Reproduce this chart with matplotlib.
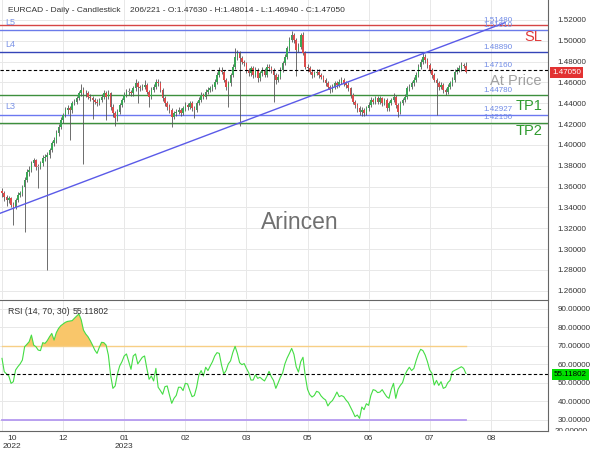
import matplotlib
matplotlib.use("Agg")
import matplotlib.pyplot as plt
import matplotlib.transforms as mtransforms
import numpy as np

plt.rcParams["font.family"] = ["Liberation Sans", "DejaVu Sans"]

# daily EURCAD candles, prices in 1/10000
FIRST_OPEN = 13560
CLOSE_PIPS = [
    13536, 13504, 13472, 13488, 13424, 13408, 13472, 13520, 13536, 13600,
    13664, 13744, 13760, 13824, 13856, 13792, 13792, 13824, 13872, 13888,
    13904, 13952, 14016, 14048, 14112, 14176, 14240, 14288, 14336, 14352,
    14336, 14400, 14416, 14448, 14496, 14528, 14496, 14496, 14464, 14448,
    14432, 14416, 14400, 14432, 14464, 14496, 14464, 14496, 14368, 14304,
    14256, 14320, 14384, 14432, 14480, 14512, 14512, 14496, 14544, 14592,
    14560, 14544, 14560, 14576, 14512, 14464, 14528, 14560, 14608, 14592,
    14528, 14448, 14400, 14368, 14336, 14272, 14304, 14320, 14336, 14304,
    14352, 14384, 14368, 14400, 14352, 14336, 14400, 14432, 14480, 14464,
    14512, 14528, 14544, 14560, 14608, 14672, 14720, 14704, 14624, 14560,
    14592, 14672, 14752, 14848, 14880, 14832, 14800, 14784, 14720, 14688,
    14736, 14672, 14720, 14640, 14688, 14720, 14672, 14752, 14736, 14720,
    14672, 14624, 14656, 14720, 14784, 14848, 14928, 15008, 15056, 15008,
    14912, 14944, 15056, 14880, 14752, 14736, 14704, 14672, 14688, 14704,
    14672, 14656, 14624, 14592, 14560, 14528, 14560, 14592, 14576, 14608,
    14624, 14592, 14576, 14544, 14480, 14416, 14384, 14352, 14320, 14336,
    14304, 14352, 14384, 14432, 14416, 14448, 14416, 14448, 14400, 14432,
    14352, 14400, 14432, 14464, 14384, 14320, 14400, 14432, 14464, 14544,
    14560, 14592, 14624, 14672, 14752, 14800, 14848, 14816, 14768, 14720,
    14672, 14624, 14592, 14560, 14576, 14528, 14512, 14560, 14592, 14624,
    14704, 14720, 14736, 14768, 14763, 14705,
]
HIGH_PIPS = [
    13590, 13555, 13520, 13510, 13500, 13450, 13490, 13545, 13560, 13620,
    13690, 13770, 13800, 13850, 13880, 13870, 13820, 13845, 13900, 13910,
    13930, 13975, 14040, 14075, 14140, 14200, 14265, 14310, 14360, 14380,
    14375, 14425, 14445, 14470, 14520, 14586, 14560, 14530, 14515, 14490,
    14470, 14455, 14440, 14455, 14490, 14525, 14515, 14530, 14510, 14390,
    14330, 14345, 14405, 14455, 14505, 14540, 14545, 14530, 14570, 14630,
    14610, 14580, 14590, 14624, 14595, 14530, 14555, 14590, 14635, 14630,
    14610, 14545, 14470, 14420, 14390, 14355, 14330, 14345, 14360, 14355,
    14375, 14410, 14405, 14425, 14420, 14375, 14420, 14460, 14505, 14500,
    14535, 14555, 14570, 14590, 14635, 14700, 14745, 14750, 14720, 14640,
    14615, 14695, 14775, 14928, 14910, 14900, 14850, 14820, 14800, 14740,
    14760, 14755, 14745, 14740, 14710, 14745, 14740, 14780, 14775, 14760,
    14740, 14690, 14680, 14745, 14810, 14875, 14955, 15035, 15098, 15075,
    15025, 14975, 15075, 15088, 14900, 14780, 14760, 14725, 14715, 14730,
    14725, 14695, 14675, 14645, 14610, 14580, 14585, 14615, 14610, 14630,
    14650, 14645, 14615, 14600, 14560, 14500, 14435, 14405, 14375, 14360,
    14355, 14375, 14410, 14460, 14455, 14475, 14470, 14470, 14465, 14455,
    14450, 14425, 14455, 14495, 14480, 14400, 14425, 14455, 14490, 14565,
    14590, 14615, 14650, 14700, 14775, 14830, 14880, 14870, 14835, 14790,
    14740, 14690, 14645, 14610, 14600, 14595, 14550, 14585, 14615, 14650,
    14730, 14745, 14765, 14795, 14790, 14801,
]
LOW_PIPS = [
    13500, 13460, 13410, 13440, 13400, 13232, 13390, 13455, 13500, 13510,
    13168, 13640, 13700, 13740, 13800, 13760, 13584, 13770, 13800, 13850,
    12800, 13880, 13930, 13990, 14020, 14090, 14150, 14215, 14270, 14300,
    14048, 14310, 14380, 14395, 14430, 14470, 13818, 14460, 14440, 14420,
    14246, 14390, 14370, 14380, 14410, 14440, 14240, 14445, 14340, 14270,
    14182, 14230, 14300, 14360, 14410, 14460, 14480, 14470, 14475, 14520,
    14400, 14520, 14525, 14540, 14490, 14368, 14445, 14505, 14540, 14565,
    14505, 14420, 14375, 14340, 14310, 14176, 14250, 14280, 14300, 14280,
    14285, 14330, 14340, 14350, 14330, 14256, 14315, 14380, 14410, 14440,
    14445, 14490, 14510, 14520, 14540, 14590, 14650, 14680, 14600, 14530,
    14362, 14570, 14650, 14730, 14820, 14180, 14775, 14760, 14690, 14660,
    14665, 14645, 14650, 14600, 14615, 14665, 14650, 14650, 14710, 14695,
    14416, 14590, 14600, 14635, 14700, 14765, 14825, 14905, 14985, 14980,
    14662, 14890, 14920, 14860, 14730, 14700, 14680, 14640, 14650, 14670,
    14645, 14630, 14600, 14565, 14535, 14500, 14505, 14540, 14550, 14555,
    14590, 14570, 14550, 14520, 14455, 14390, 14355, 14320, 14290, 14278,
    14280, 14285, 14330, 14365, 14390, 14395, 14390, 14395, 14375, 14380,
    14325, 14330, 14380, 14410, 14355, 14266, 14300, 14380, 14410, 14440,
    14520, 14540, 14570, 14600, 14650, 14730, 14780, 14790, 14740, 14695,
    14645, 14600, 14288, 14530, 14540, 14500, 14480, 14490, 14540, 14570,
    14600, 14680, 14700, 14715, 14735, 14694,
]
RSI = [
    63.3, 56.1, 54.9, 53.8, 49.8, 50.7, 57.0, 58.8, 60.3, 62.4,
    69.6, 70.9, 72.3, 75.9, 70.5, 69.6, 67.8, 67.5, 71.8, 71.4,
    72.9, 75.0, 76.8, 73.2, 77.2, 79.5, 81.0, 81.9, 82.8, 83.3,
    83.5, 83.7, 85.0, 86.2, 87.3, 84.1, 78.6, 76.5, 75.0, 72.9,
    70.5, 67.8, 66.0, 69.3, 72.0, 71.8, 70.5, 65.1, 54.3, 47.1,
    48.4, 54.9, 59.2, 61.5, 64.6, 65.7, 61.5, 57.4, 64.6, 65.7,
    60.3, 62.1, 63.9, 64.6, 57.9, 52.0, 53.8, 51.1, 57.9, 47.7,
    45.9, 43.9, 48.0, 48.4, 43.5, 39.0, 41.7, 43.3, 47.7, 47.7,
    45.9, 49.8, 49.5, 45.9, 42.6, 43.2, 47.7, 54.3, 56.7, 53.8,
    58.5, 56.7, 59.2, 61.5, 64.6, 66.4, 66.0, 59.7, 54.9, 56.7,
    60.3, 62.0, 66.5, 69.8, 66.0, 61.0, 59.9, 60.5, 57.9, 55.6,
    51.6, 51.6, 54.5, 52.5, 53.1, 52.0, 51.1, 53.4, 56.3, 53.4,
    51.3, 47.1, 50.0, 53.1, 55.4, 60.3, 63.5, 66.0, 68.7, 65.5,
    58.8, 55.9, 61.5, 63.9, 53.8, 46.6, 43.7, 42.4, 43.3, 45.5,
    45.0, 43.0, 41.7, 40.8, 37.6, 39.4, 40.5, 42.6, 45.1, 42.6,
    43.2, 42.6, 40.8, 39.4, 37.0, 34.5, 31.8, 32.7, 30.9, 37.0,
    35.6, 38.8, 37.9, 43.3, 46.4, 46.0, 44.8, 45.1, 46.4, 44.4,
    42.6, 41.7, 46.6, 49.8, 41.7, 46.6, 48.7, 50.2, 54.3, 56.7,
    58.5, 56.7, 57.9, 62.1, 65.7, 68.2, 67.5, 65.1, 61.5, 57.0,
    55.2, 48.9, 51.4, 48.7, 50.7, 47.1, 47.7, 50.2, 51.4, 56.1,
    56.8, 57.4, 58.1, 58.8, 57.9, 55.11802,
]

LEVELS = [1.51480, 1.51010, 1.48890, 1.47160, 1.44780, 1.42927, 1.42150]
LEVEL_TEXT = ["1.51480", "1.51010", "1.48890", "1.47160", "1.44780", "1.42927", "1.42150"]
LEVEL_NAMES = {"L5": 1.51010, "L4": 1.48890, "L3": 1.42927}
TAGS = ["SL", "At Price", "TP1", "TP2"]
TAG_PRICES = [1.5037, 1.4610, 1.4374, 1.4134]
TREND_X = [-0.9, 222.3]
TREND_Y = [1.3344, 1.5175]
LAST_PRICE = "1.47050"
RSI_LAST = 55.11802
TICK_BARS = [0, 27, 54, 81, 108, 135, 162, 189, 216]
TICK_LABELS = ["10\n2022", "12", "01\n2023", "02", "03", "05", "06", "07", "08"]
TITLE = ("EURCAD - Daily - Candlestick    206/221 - O:1.47630 - H:1.48014 - "
         "L:1.46940 - C:1.47050")

# styles
LEVEL_COLORS = ["#d64545", "#6b7bea", "#3444b8", "black", "#3d8f3d", "#6b78f0", "#3d8f3d"]
TAG_COLORS = ["#e03a3a", "#a0a0a0", "#2e9a2e", "#2e9a2e"]
GRID = "#e8e8e8"
AXIS = "#666666"

closes = np.array(CLOSE_PIPS) / 1e4
highs = np.array(HIGH_PIPS) / 1e4
lows = np.array(LOW_PIPS) / 1e4
opens = np.concatenate([[FIRST_OPEN / 1e4], closes[:-1]])
x = np.arange(len(closes))
rsi = np.array(RSI)

fig = plt.figure(figsize=(6, 4.5), dpi=100)
ax = fig.add_axes([0, 151 / 450, 548 / 600, 299 / 450])
ax_rsi = fig.add_axes([0, 19 / 450, 548 / 600, 131 / 450], sharex=ax)

xlim = (-0.884, 241.27)

# ---- price panel ----
ax.set_xlim(*xlim)
ax.set_ylim(1.25216, 1.5392)
ax.set_yticks(np.arange(1.26, 1.5201, 0.02))
ax.yaxis.tick_right()
ax.yaxis.set_major_formatter(matplotlib.ticker.FormatStrFormatter("%.5f"))
ax.tick_params(axis="y", length=0, pad=7, labelsize=5.8, labelcolor="#333333")
ax.tick_params(axis="x", length=0, labelbottom=False)
ax.set_xticks(TICK_BARS)
ax.grid(True, color=GRID, lw=0.7)
ax.set_axisbelow(True)
for side in ["top", "left", "bottom"]:
    ax.spines[side].set_visible(False)
ax.spines["right"].set_color(AXIS)

body_colors = np.where(closes > opens, "#3aa655",
                       np.where(closes < opens, "#dc4b4b", "#a8a8a8"))
ax.vlines(x, lows, highs, color="#555555", lw=0.6, zorder=3)
ax.bar(x, np.maximum(np.abs(closes - opens), 0.0003), bottom=np.minimum(opens, closes),
       width=0.7, color=body_colors, lw=0, zorder=4)

for lvl, col in zip(LEVELS, LEVEL_COLORS):
    if col == "black":
        ax.axhline(lvl, color="black", lw=0.8, ls=(0, (3, 2)), zorder=5)
    else:
        ax.axhline(lvl, color=col, lw=1.0, zorder=2)

ax.plot(TREND_X, TREND_Y, color="#5a5ae8", lw=1.0, zorder=5)

blend = mtransforms.blended_transform_factory(ax.transAxes, ax.transData)
for lvl, txt in zip(LEVELS, LEVEL_TEXT):
    ax.annotate(txt, xy=(483 / 548, lvl), xycoords=blend, xytext=(0, 3.7),
                textcoords="offset points", va="center", ha="left",
                fontsize=5.8, color="#6f8ae6", zorder=6)
for name, lvl in LEVEL_NAMES.items():
    ax.annotate(name, xy=(5 / 548, lvl), xycoords=blend, xytext=(0, 5.5),
                textcoords="offset points", va="center", ha="left",
                fontsize=6.5, color="#7b93e6")
for tag, price, col in zip(TAGS, TAG_PRICES, TAG_COLORS):
    ax.text(542 / 548, price, tag, transform=blend, ha="right", va="center",
            fontsize=10.5, color=col, zorder=6)

fig.text(0.5, 1 - 222 / 450, "Arincen", ha="center", va="center",
         fontsize=16.5, color="#707070")
fig.text(8 / 600, 1 - 10 / 450, TITLE, ha="left", va="center",
         fontsize=6, color="#333333")
fig.text(552 / 600, 1 - 72.5 / 450, LAST_PRICE, ha="left", va="center",
         fontsize=5.8, color="white",
         bbox=dict(boxstyle="square,pad=0.25", fc="#e23232", ec="none"))

# ---- RSI panel ----
ax_rsi.set_xlim(*xlim)
ax_rsi.set_ylim(24.05, 94.86)
ax_rsi.set_yticks(np.arange(30, 91, 10))
ax_rsi.yaxis.tick_right()
ax_rsi.yaxis.set_major_formatter(matplotlib.ticker.FormatStrFormatter("%.5f"))
ax_rsi.tick_params(axis="y", length=0, pad=7, labelsize=5.8, labelcolor="#333333")
ax_rsi.set_xticks(TICK_BARS)
ax_rsi.set_xticklabels(TICK_LABELS, linespacing=1.1)
ax_rsi.tick_params(axis="x", length=0, pad=3, labelsize=6, labelcolor="#333333")
first = ax_rsi.get_xticklabels()[0]
first.set_transform(first.get_transform()
                    + mtransforms.ScaledTranslation(10 / 100, 0, fig.dpi_scale_trans))
ax_rsi.grid(True, color=GRID, lw=0.7)
ax_rsi.set_axisbelow(True)
ax_rsi.spines["left"].set_visible(False)
for side in ["top", "right", "bottom"]:
    ax_rsi.spines[side].set_color(AXIS)

ax_rsi.plot([x[0], x[-1]], [70, 70], color="#f7cf85", lw=1.0)
ax_rsi.plot([x[0], x[-1]], [30, 30], color="#b59af0", lw=1.3)
ax_rsi.fill_between(x, rsi, 70, where=rsi > 70, interpolate=True,
                    color="#f9c66a", lw=0)
ax_rsi.plot(x, rsi, color="#44dd44", lw=0.8)
ax_rsi.axhline(RSI_LAST, color="black", lw=0.8, ls=(0, (3, 2)))

ax_rsi.text(8 / 548, 0.91, "RSI (14, 70, 30)", transform=ax_rsi.transAxes,
            fontsize=6.3, color="#333333", va="center")
ax_rsi.text(73 / 548, 0.91, f"{RSI_LAST:.5f}", transform=ax_rsi.transAxes,
            fontsize=6.3, color="#333333", va="center")
fig.text(554 / 600, 1 - 374.5 / 450, f"{RSI_LAST:.5f}", ha="left", va="center",
         fontsize=5.8, color="black",
         bbox=dict(boxstyle="square,pad=0.2", fc="#00e000", ec="none"))

# the 20.00000 label sits half below the panel edge, so clip it there
low_lbl = fig.text(555 / 600, 1 - 431.5 / 450, "20.00000", ha="left", va="center",
                   fontsize=5.8, color="#333333")
low_lbl.set_clip_box(mtransforms.TransformedBbox(
    mtransforms.Bbox([[0, 19 / 450], [1, 1]]), fig.transFigure))
low_lbl.set_clip_on(True)

fig.savefig("out.png", dpi=100)
